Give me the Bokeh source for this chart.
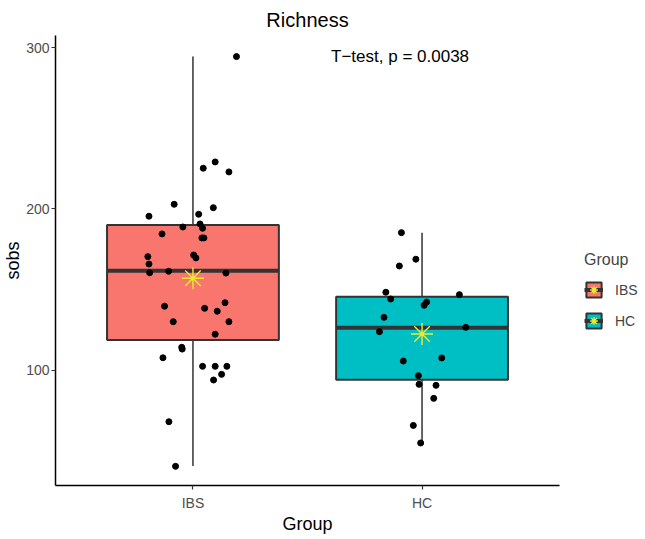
from bokeh.plotting import figure
from bokeh.models import Range1d, FixedTicker, Legend, LegendItem, Label
from bokeh.embed import file_html
from bokeh.resources import INLINE

groups = ["IBS", "HC"]
group_pos = [1, 2]
colors = ["#F8766D", "#00BFC4"]

# box statistics
lower = [40.4, 55.0]
q1 = [118.6, 94.0]
median = [161.7, 126.3]
q3 = [190.0, 145.5]
upper = [294.6, 185.3]
means = [157.0, 122.4]

# individual samples (value, horizontal jitter as drawn)
ibs_sobs = [294.6, 229.2, 225.3, 223.0, 202.9, 200.8, 195.5, 196.7, 188.8, 190.7,
            188.0, 184.5, 182.0, 182.0, 170.4, 165.8, 171.4, 169.6, 160.4, 161.3,
            160.2, 139.6, 138.3, 136.5, 141.8, 130.0, 130.0, 122.2, 114.1, 113.0,
            107.6, 102.3, 102.3, 102.3, 97.3, 93.8, 67.9, 40.2]
ibs_jitter = [0.19, 0.097, 0.045, 0.157, -0.082, 0.089, -0.192, 0.025, -0.044, 0.031,
              0.042, -0.135, 0.039, 0.048, -0.197, -0.192, 0.003, 0.013, -0.189, -0.106,
              0.144, -0.124, 0.051, 0.106, 0.14, -0.086, 0.157, 0.097, -0.049, -0.047,
              -0.131, 0.042, 0.097, 0.148, 0.125, 0.09, -0.105, -0.076]
hc_sobs = [185.3, 168.8, 164.6, 148.3, 144.1, 146.8, 142.2, 140.2, 132.7, 123.8,
           126.5, 105.6, 107.5, 96.5, 91.1, 90.5, 82.4, 65.6, 54.7]
hc_jitter = [-0.09, -0.027, -0.099, -0.158, -0.137, 0.163, 0.02, 0.009, -0.166, -0.186,
             0.191, -0.082, 0.086, -0.016, -0.013, 0.061, 0.051, -0.038, -0.006]

y_ticks = [100, 200, 300]
annotation = "T\u2212test, p = 0.0038"

BOX_W = 0.75
FONT = "Liberation Sans"
DARK = "#333333"

p = figure(frame_width=504, frame_height=450,
           x_range=Range1d(0.4, 2.6), y_range=Range1d(28.3, 307.7),
           output_backend="svg", toolbar_location=None,
           min_border_left=47, min_border_right=78, min_border_top=35, min_border_bottom=40)

p.background_fill_color = "white"
p.border_fill_color = "white"
p.outline_line_color = None
p.xgrid.visible = False
p.ygrid.visible = False

# whiskers
p.segment(x0=group_pos, y0=lower, x1=group_pos, y1=upper, line_color=DARK, line_width=1.5)
# boxes
box_r = p.vbar(x=group_pos, width=BOX_W, bottom=q1, top=q3, fill_color=colors,
               line_color=DARK, line_width=2)
# medians
med_r = p.segment(x0=[g - BOX_W / 2 for g in group_pos], x1=[g + BOX_W / 2 for g in group_pos],
                  y0=median, y1=median, line_color=DARK, line_width=4)
# points
px = [group_pos[0] + j for j in ibs_jitter] + [group_pos[1] + j for j in hc_jitter]
py = ibs_sobs + hc_sobs
p.scatter(px, py, size=6, fill_color="black", line_color="black")
# means
star_r = p.scatter(group_pos, means, marker="asterisk", size=22,
                   line_color="#EBEB2E", line_width=1.4)

p.add_layout(Label(x=1.904, y=294.4, text=annotation, text_align="center",
                   text_baseline="middle", text_font=FONT, text_font_size="17px",
                   text_color="black"))

# axes
p.xaxis.ticker = FixedTicker(ticks=group_pos)
p.xaxis.major_label_overrides = {g: n for g, n in zip(group_pos, groups)}
p.yaxis.ticker = FixedTicker(ticks=y_ticks)
p.xaxis.axis_label = "Group"
p.yaxis.axis_label = "sobs"
for ax in (p.xaxis[0], p.yaxis[0]):
    ax.axis_line_color = "black"
    ax.axis_line_width = 1.5
    ax.major_tick_line_color = DARK
    ax.major_tick_line_width = 1.2
    ax.major_tick_in = 0
    ax.major_tick_out = 4
    ax.minor_tick_line_color = None
    ax.major_label_text_font = FONT
    ax.major_label_text_font_size = "14px"
    ax.major_label_text_color = "#4D4D4D"
    ax.axis_label_text_font = FONT
    ax.axis_label_text_font_size = "18px"
    ax.axis_label_text_font_style = "normal"
    ax.axis_label_text_color = "black"
p.yaxis.major_label_standoff = 2
p.yaxis.axis_label_standoff = 0
p.xaxis.major_label_standoff = 5
p.xaxis.axis_label_standoff = 0

p.title.text = "Richness"
p.title.align = "center"
p.title.text_font = FONT
p.title.text_font_size = "20px"
p.title.text_font_style = "normal"
p.title.text_color = "black"

legend = Legend(items=[LegendItem(label=groups[i], renderers=[box_r, med_r, star_r], index=i)
                       for i in range(len(groups))],
                title="Group", location=(25, 155))
legend.title_text_font = FONT
legend.title_text_font_size = "16px"
legend.title_text_font_style = "normal"
legend.title_standoff = 11
legend.label_text_font = FONT
legend.label_text_font_size = "14px"
legend.glyph_width = 19
legend.glyph_height = 19
legend.spacing = 12
legend.label_standoff = 12
legend.padding = 5
legend.margin = 0
legend.border_line_color = None
legend.background_fill_alpha = 0
p.add_layout(legend, "right")

open("out.html", "w").write(file_html(p, INLINE))
